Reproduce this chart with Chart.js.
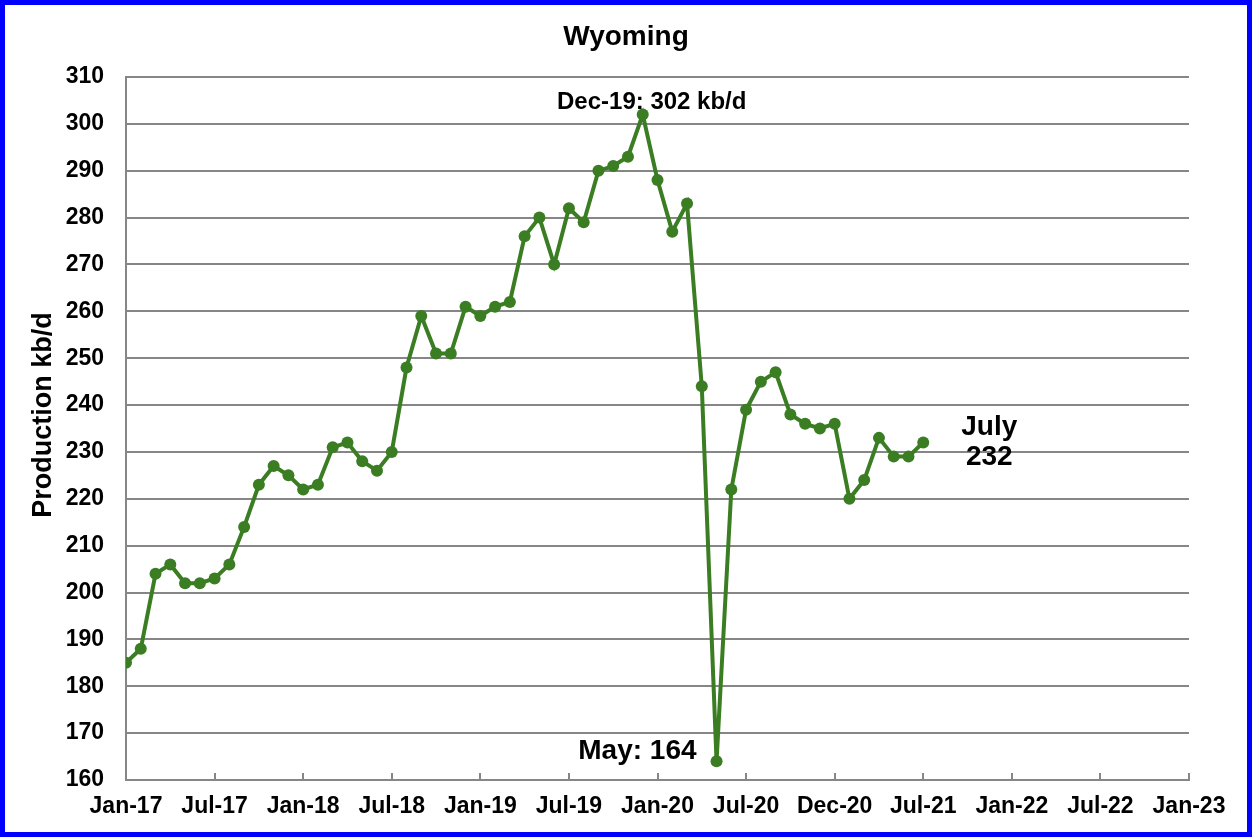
<!DOCTYPE html>
<html>
<head>
<meta charset="utf-8">
<script src="https://cdn.jsdelivr.net/npm/chart.js@4/dist/chart.umd.min.js"></script>
<style>
  html, body { margin: 0; padding: 0; background: #fff; }
  #wrap { width: 1256px; height: 838px; }
</style>
</head>
<body>
<div id="wrap"><canvas id="c" width="1256" height="838"></canvas></div>
<script>
// Wyoming oil production, kb/d, monthly from Jan-17 to Jul-21
const months = [
  'Jan-17','Feb-17','Mar-17','Apr-17','May-17','Jun-17','Jul-17','Aug-17','Sep-17','Oct-17','Nov-17','Dec-17',
  'Jan-18','Feb-18','Mar-18','Apr-18','May-18','Jun-18','Jul-18','Aug-18','Sep-18','Oct-18','Nov-18','Dec-18',
  'Jan-19','Feb-19','Mar-19','Apr-19','May-19','Jun-19','Jul-19','Aug-19','Sep-19','Oct-19','Nov-19','Dec-19',
  'Jan-20','Feb-20','Mar-20','Apr-20','May-20','Jun-20','Jul-20','Aug-20','Sep-20','Oct-20','Nov-20','Dec-20',
  'Jan-21','Feb-21','Mar-21','Apr-21','May-21','Jun-21','Jul-21'
];
const production = [
  185, 188, 204, 206, 202, 202, 203, 206, 214, 223, 227, 225,
  222, 223, 231, 232, 228, 226, 230, 248, 259, 251, 251, 261,
  259, 261, 262, 276, 280, 270, 282, 279, 290, 291, 293, 302,
  288, 277, 283, 244, 164, 222, 239, 245, 247, 238, 236, 235,
  236, 220, 224, 233, 229, 229, 232
];
// x axis tick labels, one every 6 months
const tickLabels = ['Jan-17','Jul-17','Jan-18','Jul-18','Jan-19','Jul-19','Jan-20',
                    'Jul-20','Dec-20','Jul-21','Jan-22','Jul-22','Jan-23'];

const GREEN = '#3a7d22';
const GRID = '#868686';
const FONT = '"Liberation Sans", Arial, sans-serif';

const points = production.map((v, i) => ({ x: i, y: v }));

const decorations = {
  id: 'decorations',
  beforeDraw(chart) {
    const ctx = chart.ctx;
    ctx.save();
    ctx.fillStyle = '#fff';
    ctx.fillRect(0, 0, chart.width, chart.height);
    ctx.restore();
  },
  afterDraw(chart) {
    const ctx = chart.ctx;
    const xs = chart.scales.x, ys = chart.scales.y;
    const area = chart.chartArea;
    ctx.save();

    // inward tick marks on the x axis
    ctx.strokeStyle = GRID;
    ctx.lineWidth = 2;
    xs.ticks.forEach(t => {
      const px = Math.round(xs.getPixelForValue(t.value));
      ctx.beginPath();
      ctx.moveTo(px, area.bottom);
      ctx.lineTo(px, area.bottom - 7);
      ctx.stroke();
    });

    ctx.fillStyle = '#000';
    // title
    ctx.font = 'bold 28px ' + FONT;
    ctx.textAlign = 'center';
    ctx.textBaseline = 'middle';
    ctx.fillText('Wyoming', 626, 37);

    // y axis title
    ctx.save();
    ctx.translate(44, 415);
    ctx.rotate(-Math.PI / 2);
    ctx.font = 'bold 27px ' + FONT;
    ctx.fillText('Production kb/d', 0, 0);
    ctx.restore();

    // annotations
    const iPeak = months.indexOf('Dec-19');
    const iLow = months.indexOf('May-20');
    const iLast = production.length - 1;
    ctx.font = 'bold 24px ' + FONT;
    ctx.textAlign = 'center';
    ctx.fillText('Dec-19: 302 kb/d', xs.getPixelForValue(iPeak) + 9, ys.getPixelForValue(production[iPeak]) - 12);

    ctx.font = 'bold 28px ' + FONT;
    ctx.textAlign = 'right';
    ctx.fillText('May: 164', xs.getPixelForValue(iLow) - 20, ys.getPixelForValue(production[iLow]) - 10);

    ctx.textAlign = 'center';
    const lx = xs.getPixelForValue(iLast) + 66;
    const ly = ys.getPixelForValue(production[iLast]);
    ctx.fillText('July', lx, ly - 15);
    ctx.fillText('232', lx, ly + 15);

    // blue frame
    ctx.strokeStyle = '#0000ff';
    ctx.lineWidth = 5;
    ctx.strokeRect(2.5, 2.5, 1247, 832);
    ctx.restore();
  }
};

new Chart(document.getElementById('c'), {
  type: 'line',
  data: {
    datasets: [{
      data: points,
      borderColor: GREEN,
      backgroundColor: GREEN,
      borderWidth: 4,
      pointRadius: 6,
      pointBackgroundColor: GREEN,
      pointBorderColor: GREEN,
      pointBorderWidth: 0,
      tension: 0,
      fill: false
    }]
  },
  options: {
    responsive: false,
    animation: false,
    devicePixelRatio: 1,
    layout: { padding: { top: 77, right: 67, left: 0, bottom: 0 } },
    plugins: { legend: { display: false }, tooltip: { enabled: false } },
    scales: {
      x: {
        type: 'linear',
        min: 0, max: 72,
        afterBuildTicks(scale) {
          scale.ticks = tickLabels.map((_, i) => ({ value: i * 6 }));
        },
        afterFit(scale) { scale.height = 58; },
        grid: { display: false, drawTicks: false },
        border: { display: true, color: GRID, width: 2 },
        ticks: {
          padding: 13,
          autoSkip: false,
          maxRotation: 0,
          color: '#000',
          font: { family: FONT, size: 23, weight: 'bold' },
          callback: (v) => tickLabels[Math.round(v / 6)]
        }
      },
      y: {
        min: 160, max: 310,
        afterFit(scale) { scale.width = 126; },
        grid: { color: GRID, lineWidth: 2, drawTicks: false },
        border: { display: true, color: GRID, width: 2 },
        ticks: {
          stepSize: 10,
          padding: 22,
          color: '#000',
          font: { family: FONT, size: 23, weight: 'bold' }
        }
      }
    }
  },
  plugins: [decorations]
});
</script>
</body>
</html>
